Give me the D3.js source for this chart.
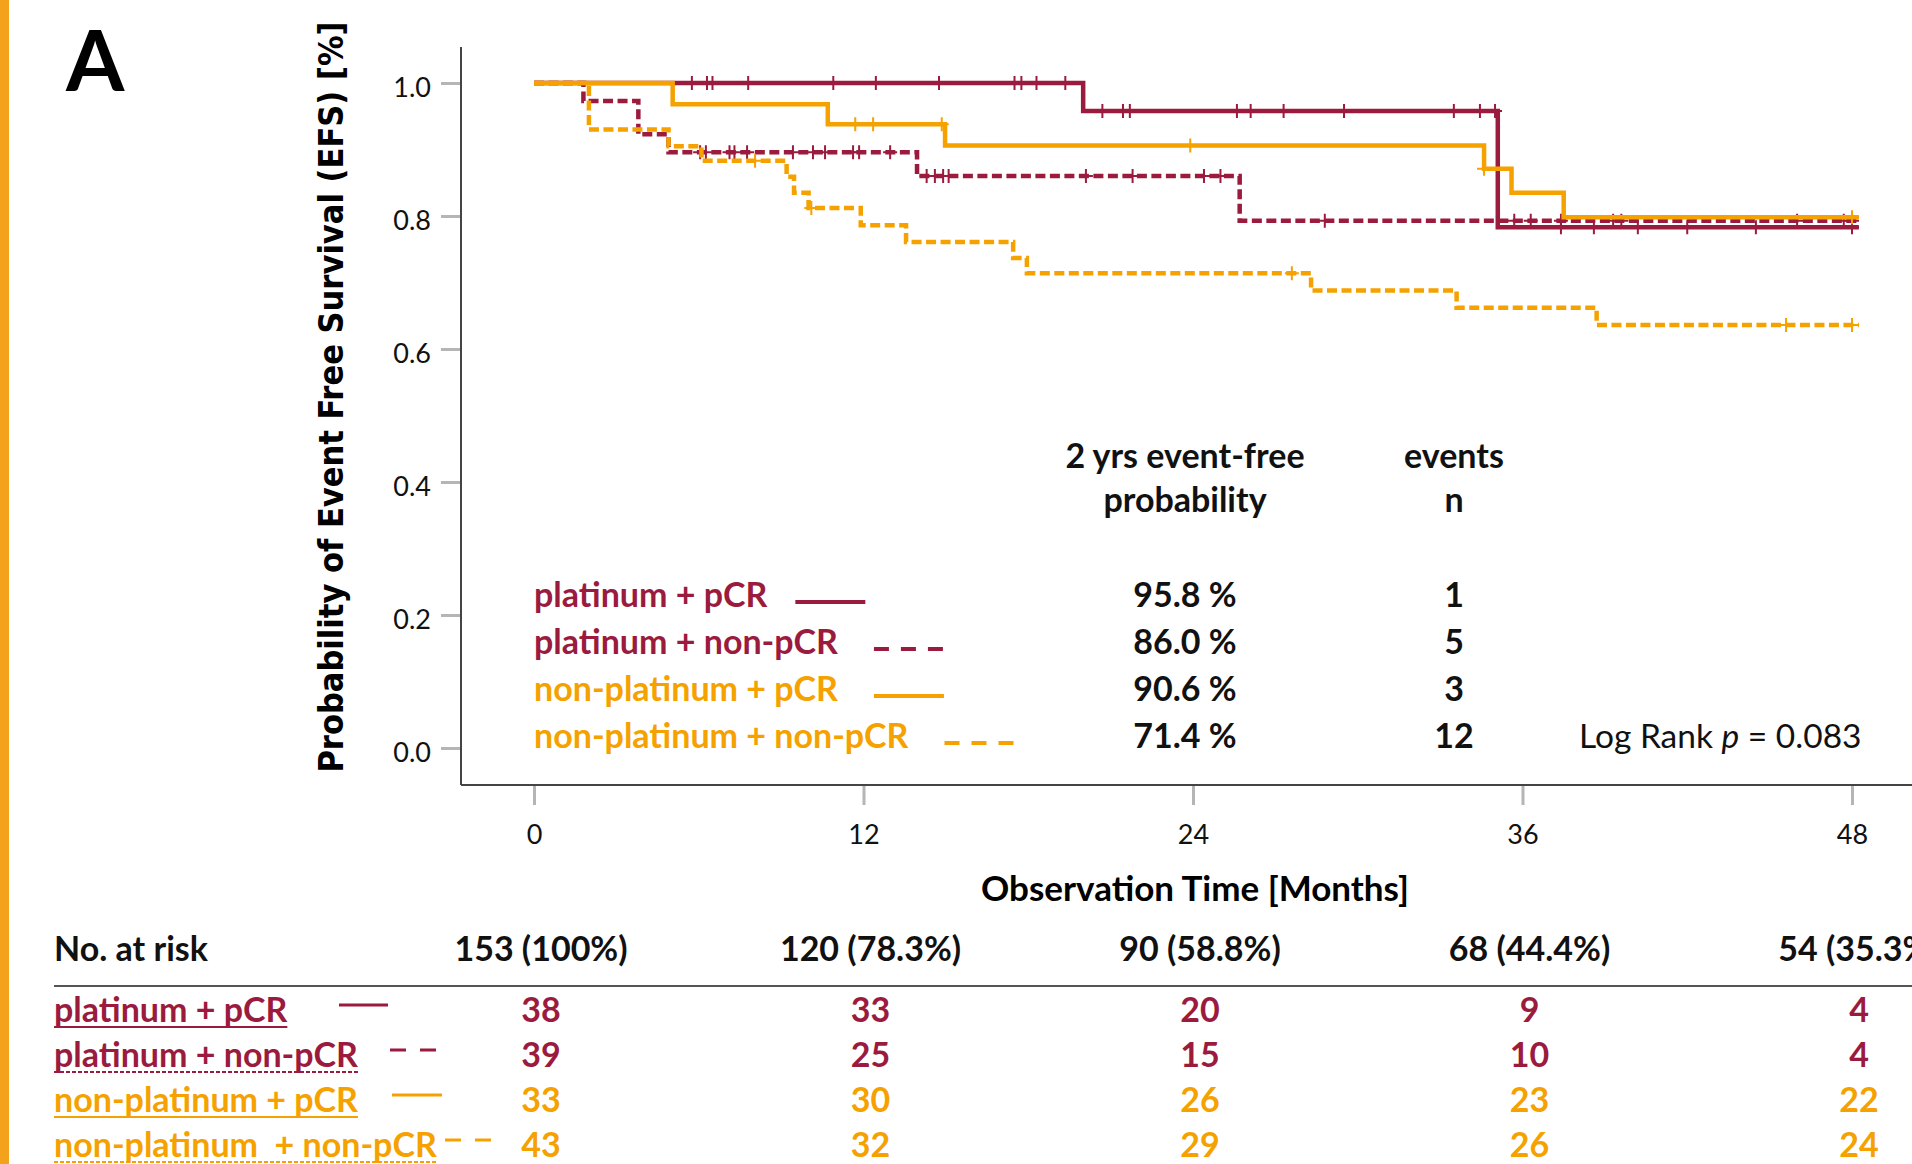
<!DOCTYPE html>
<html>
<head>
<meta charset="utf-8">
<script src="https://cdn.jsdelivr.net/npm/d3@7"></script>
<style>
  html, body { margin: 0; padding: 0; background: #fff; }
  svg { display: block; }
</style>
</head>
<body>
<svg id="chart" width="1912" height="1164"></svg>
<script>
// ---------- data ----------
const monthTicks = [0, 12, 24, 36, 48];
const survivalTicks = [0, 0.2, 0.4, 0.6, 0.8, 1.0];
const groupNames = ["platinum + pCR", "platinum + non-pCR", "non-platinum + pCR", "non-platinum + non-pCR"];
const riskRowNames = ["platinum + pCR", "platinum + non-pCR", "non-platinum + pCR", "non-platinum  + non-pCR"];

// Kaplan-Meier steps: [month, event-free probability after the step]
const stepsPlatinumPCR = [[0, 1.0], [20.0, 0.958], [35.1, 0.783]];
const stepsPlatinumNonPCR = [[0, 1.0], [1.8, 0.973], [3.8, 0.923], [4.9, 0.896], [13.95, 0.860], [25.7, 0.793]];
const stepsNonPlatinumPCR = [[0, 1.0], [5.05, 0.968], [10.7, 0.938], [14.97, 0.906], [34.6, 0.871], [35.6, 0.835], [37.5, 0.798]];
const stepsNonPlatinumNonPCR = [[0, 1.0], [2.0, 0.930], [4.9, 0.905], [6.1, 0.883], [9.2, 0.859], [9.47, 0.835],
  [10.0, 0.812], [11.9, 0.786], [13.55, 0.761], [17.45, 0.737], [17.95, 0.714], [28.3, 0.688], [33.6, 0.662], [38.7, 0.636]];

// censored observations (months)
const censorPlatinumPCR = [5.75, 6.3, 6.5, 7.8, 10.9, 12.45, 14.75, 17.5, 17.75, 18.3, 19.35,
  20.7, 21.45, 21.7, 25.6, 26.1, 27.3, 29.5, 33.5, 34.45, 35.0, 37.4, 38.6, 40.2, 42.0, 44.5, 48.0];
const censorPlatinumNonPCR = [6.05, 6.26, 7.12, 7.3, 7.76, 9.43, 10.16, 10.6, 11.62, 11.84, 12.97,
  14.3, 14.6, 14.9, 15.1, 20.1, 21.8, 24.4, 25.0, 28.8, 35.7, 36.3, 37.4, 39.3, 39.6, 46.0, 47.7, 48.0];
const censorNonPlatinumPCR = [11.7, 12.35, 14.85, 23.9, 34.6, 48.0];
const censorNonPlatinumNonPCR = [8.05, 10.1, 27.6, 45.6, 48.0];
const followUpEnd = 48.25;

const twoYearEFS = [95.8, 86.0, 90.6, 71.4];
const eventCounts = [1, 5, 3, 12];
const logRankP = "0.083";

const totalAtRisk = ["153 (100%)", "120 (78.3%)", "90 (58.8%)", "68 (44.4%)", "54 (35.3%)"];
const riskPlatinumPCR = [38, 33, 20, 9, 4];
const riskPlatinumNonPCR = [39, 25, 15, 10, 4];
const riskNonPlatinumPCR = [33, 30, 26, 23, 22];
const riskNonPlatinumNonPCR = [43, 32, 29, 26, 24];

// ---------- styling ----------
const CRIMSON = "#9b1b3e";
const ORANGE = "#f5a100";
const sans = "Lato, 'Open Sans', sans-serif";
const titleFont = "'DejaVu Sans Condensed', 'DejaVu Sans', Verdana, sans-serif";
const LABEL_SIZE = 34;

const series = [
  { name: groupNames[0], steps: stepsPlatinumPCR, censor: censorPlatinumPCR, color: CRIMSON, dashed: false, risk: riskPlatinumPCR },
  { name: groupNames[1], steps: stepsPlatinumNonPCR, censor: censorPlatinumNonPCR, color: CRIMSON, dashed: true, risk: riskPlatinumNonPCR },
  { name: groupNames[2], steps: stepsNonPlatinumPCR, censor: censorNonPlatinumPCR, color: ORANGE, dashed: false, risk: riskNonPlatinumPCR },
  { name: groupNames[3], steps: stepsNonPlatinumNonPCR, censor: censorNonPlatinumNonPCR, color: ORANGE, dashed: true, risk: riskNonPlatinumNonPCR }
];

const svg = d3.select("#chart");
const frame = { left: 461, right: 1912, top: 47, bottom: 785 };

const x = d3.scaleLinear().domain([0, 48]).range([534, 1852]);
const y = d3.scaleLinear().domain([0, 1]).range([748, 83]);

// accent bar and panel letter
svg.append("rect").attr("x", 0).attr("y", 0).attr("width", 9).attr("height", 1164).attr("fill", "#f4a21c");
svg.append("text").attr("x", 66).attr("y", 91).text("A")
  .attr("font-family", sans).attr("font-weight", 700).attr("font-size", 84).attr("fill", "#000");

// axes
const yAxis = d3.axisLeft(y).tickValues(survivalTicks).tickFormat(d3.format(".1f")).tickSize(20).tickPadding(10);
svg.append("g").attr("transform", `translate(${frame.left},0)`).call(yAxis)
  .call(g => g.select(".domain").remove())
  .call(g => g.selectAll(".tick line").attr("stroke", "#b5b5b5").attr("stroke-width", 3))
  .call(g => g.selectAll(".tick text").attr("font-family", sans).attr("font-weight", 400)
    .attr("font-size", 27).attr("fill", "#111").attr("dy", "0.5em"));

const xAxis = d3.axisBottom(x).tickValues(monthTicks).tickFormat(d3.format("d")).tickSize(20).tickPadding(20);
svg.append("g").attr("transform", `translate(0,${frame.bottom})`).call(xAxis)
  .call(g => g.select(".domain").remove())
  .call(g => g.selectAll(".tick line").attr("stroke", "#b5b5b5").attr("stroke-width", 3))
  .call(g => g.selectAll(".tick text").attr("font-family", sans).attr("font-weight", 400)
    .attr("font-size", 27).attr("fill", "#111"));

svg.append("line").attr("x1", frame.left).attr("x2", frame.left).attr("y1", frame.top).attr("y2", frame.bottom)
  .attr("stroke", "#444").attr("stroke-width", 2);
svg.append("line").attr("x1", frame.left).attr("x2", frame.right).attr("y1", frame.bottom).attr("y2", frame.bottom)
  .attr("stroke", "#444").attr("stroke-width", 2);

// axis titles
svg.append("text").attr("transform", `translate(343,397) rotate(-90)`).attr("text-anchor", "middle")
  .attr("font-family", titleFont).attr("font-weight", 700).attr("font-size", 34).attr("fill", "#000")
  .text("Probability of Event Free Survival (EFS) [%]");
svg.append("text").attr("x", 1195).attr("y", 901).attr("text-anchor", "middle")
  .attr("font-family", sans).attr("font-weight", 700).attr("font-size", 35).attr("fill", "#000")
  .text("Observation Time [Months]");

// survival curves
function survivalAt(steps, t) {
  let v = steps[0][1];
  for (const [tt, vv] of steps) { if (tt <= t) v = vv; }
  return v;
}
const stepLine = d3.line().x(d => x(d[0])).y(d => y(d[1])).curve(d3.curveStepAfter);
const drawOrder = [1, 3, 0, 2];
drawOrder.forEach(i => {
  const s = series[i];
  const pts = s.steps.concat([[followUpEnd, s.steps[s.steps.length - 1][1]]]);
  svg.append("path").datum(pts).attr("d", stepLine).attr("fill", "none")
    .attr("stroke", s.color).attr("stroke-width", 4.5)
    .attr("stroke-dasharray", s.dashed ? "10,4.5" : null);
  svg.append("g").selectAll("path").data(s.censor).join("path")
    .attr("d", t => {
      const cx = x(t), cy = y(survivalAt(s.steps, t));
      return `M${cx - 7},${cy}H${cx + 7}M${cx},${cy - 7}V${cy + 7}`;
    })
    .attr("stroke", s.color).attr("stroke-width", 2).attr("fill", "none");
});

// legend + 2-year summary
const headStyle = sel => sel.attr("font-family", sans).attr("font-weight", 700).attr("font-size", LABEL_SIZE)
  .attr("fill", "#111").attr("text-anchor", "middle");
svg.append("text").attr("x", 1185).attr("y", 468).text("2 yrs event-free").call(headStyle);
svg.append("text").attr("x", 1185).attr("y", 512).text("probability").call(headStyle);
svg.append("text").attr("x", 1454).attr("y", 468).text("events").call(headStyle);
svg.append("text").attr("x", 1454).attr("y", 512).text("n").call(headStyle);

const legendBase = 607, legendStep = 47;
series.forEach((s, i) => {
  const by = legendBase + i * legendStep;
  const label = svg.append("text").attr("x", x(0)).attr("y", by).text(s.name)
    .attr("font-family", sans).attr("font-weight", 700).attr("font-size", LABEL_SIZE).attr("fill", s.color);
  const lx = x(0) + label.node().getComputedTextLength() + (i === 0 ? 28 : 36);
  svg.append("line").attr("x1", lx).attr("x2", lx + 70).attr("y1", by - 5).attr("y2", by - 5)
    .attr("stroke", s.color).attr("stroke-width", 4)
    .attr("stroke-dasharray", s.dashed ? "15,12" : null);
  svg.append("text").attr("x", 1185).attr("y", by).text(d3.format(".1f")(twoYearEFS[i]) + " %").call(headStyle);
  svg.append("text").attr("x", 1454).attr("y", by).text(eventCounts[i]).call(headStyle);
});
const lr = svg.append("text").attr("x", 1579).attr("y", legendBase + 3 * legendStep)
  .attr("font-family", sans).attr("font-size", 33.5).attr("fill", "#111");
lr.append("tspan").text("Log Rank ");
lr.append("tspan").attr("font-style", "italic").text("p");
lr.append("tspan").text(" = " + logRankP);

// number at risk table
const colX = t => x(t) + 7;
svg.append("text").attr("x", 54).attr("y", 961).text("No. at risk")
  .attr("font-family", sans).attr("font-weight", 700).attr("font-size", LABEL_SIZE).attr("fill", "#111");
svg.append("g").selectAll("text").data(totalAtRisk).join("text")
  .attr("x", (d, j) => colX(monthTicks[j])).attr("y", 961).text(d => d).call(headStyle);
svg.append("line").attr("x1", 54).attr("x2", 1912).attr("y1", 986).attr("y2", 986)
  .attr("stroke", "#555").attr("stroke-width", 2);

const riskBase = 1022, riskStep = 45;
const riskSampleX = [339, 390, 392, 445];
const riskSampleW = [49, 46, 50, 46];
series.forEach((s, i) => {
  const by = riskBase + i * riskStep;
  const label = svg.append("text").attr("x", 54).attr("y", by).text(riskRowNames[i])
    .attr("font-family", sans).attr("font-weight", 700).attr("font-size", LABEL_SIZE).attr("fill", s.color)
    .style("white-space", "pre");
  const w = label.node().getComputedTextLength();
  svg.append("line").attr("x1", 54).attr("x2", 54 + w).attr("y1", by + 5).attr("y2", by + 5)
    .attr("stroke", s.color).attr("stroke-width", 2)
    .attr("stroke-dasharray", s.dashed ? "4,2" : null);
  svg.append("line").attr("x1", riskSampleX[i]).attr("x2", riskSampleX[i] + riskSampleW[i])
    .attr("y1", by - 17).attr("y2", by - 17)
    .attr("stroke", s.color).attr("stroke-width", 3)
    .attr("stroke-dasharray", s.dashed ? "16,14" : null);
  svg.append("g").selectAll("text").data(s.risk).join("text")
    .attr("x", (d, j) => colX(monthTicks[j])).attr("y", by).text(d => d)
    .call(headStyle).attr("fill", s.color);
});
</script>
</body>
</html>
